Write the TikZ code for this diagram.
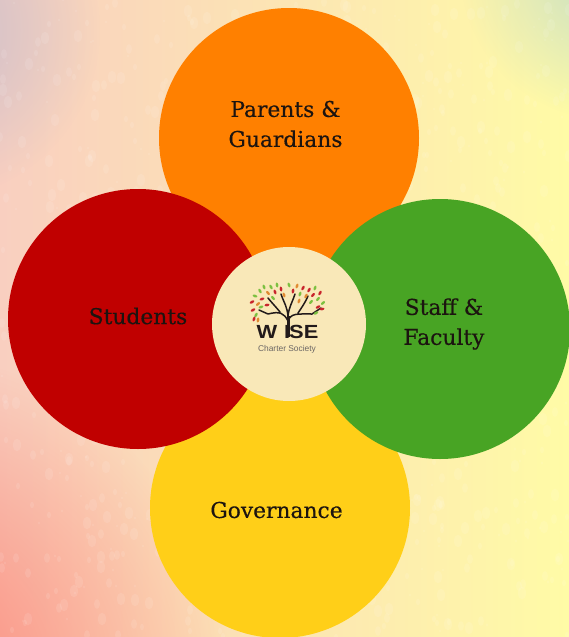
\documentclass[tikz,border=0pt]{standalone}
\usepackage{fontspec}
\usetikzlibrary{fadings,calc,shapes.geometric}
\setmainfont{DejaVu Serif}
\newfontfamily\labelfont[FakeBold=0.35]{DejaVu Serif}
\newfontfamily\logofont{Liberation Sans}
\definecolor{orangec}{HTML}{FF8000}
\definecolor{redc}{HTML}{C00000}
\definecolor{greenc}{HTML}{48A424}
\definecolor{yellowc}{HTML}{FFCF18}
\definecolor{creamc}{HTML}{F9E8B8}
\definecolor{inkc}{HTML}{1C1410}
\definecolor{treec}{HTML}{221A1A}
\definecolor{leafr}{HTML}{C8242C}
\definecolor{leafg}{HTML}{7CC040}
\definecolor{leafo}{HTML}{E08A30}
\definecolor{bgleft}{HTML}{F9CFC0}
\definecolor{bgmid}{HTML}{FCE7C6}
\definecolor{bgright}{HTML}{FFFBA6}
\definecolor{bgsalmon}{HTML}{FB8474}
\definecolor{bgslate}{HTML}{C8BECC}
\definecolor{bgsage}{HTML}{C4DCC8}
\tikzfading[name=spotfade, inner color=transparent!0, outer color=transparent!100]
\tikzset{
  petal/.style={circle, minimum size=260pt, inner sep=0pt},
  petaltext/.style={text=inkc, align=center, font=\labelfont\fontsize{21.8}{30}\selectfont},
  leaf/.style={rotate=#1, minimum width=5pt, minimum height=2.6pt, ellipse, inner sep=0pt},
}
\begin{document}
\begin{tikzpicture}[x=1pt, y=-1pt]
\useasboundingbox (0,0) rectangle (569,637);
\begin{scope}
\clip (0,0) rectangle (569,637);
\shade[left color=bgleft, middle color=bgmid, right color=bgright] (0,0) rectangle (569,637);
% corners of the wash
\fill[bgsalmon, path fading=spotfade] (-110,690) circle (340);
\fill[bgslate, path fading=spotfade] (-70,30) circle (170);
\fill[bgsage, path fading=spotfade] (610,-30) circle (150);
% mottled paper
\pgfmathsetseed{42}
\foreach \i in {1,...,900} {
  \pgfmathsetmacro{\px}{random(0,569)}
  \pgfmathsetmacro{\py}{random(0,637)}
  \pgfmathsetmacro{\pw}{random(1,4)}
  \fill[white, opacity=0.10] (\px,\py) ellipse ({\pw} and {\pw*1.6});
}
\end{scope}

% petals
\node[petal, fill=orangec] (parents) at (289,138) {};
\node[petal, fill=yellowc] (governance) at (280,508) {};
\node[petal, fill=redc] (students) at (138,319) {};
\node[petal, fill=greenc] (staff) at (440,329) {};
\node[circle, minimum size=154pt, inner sep=0pt, fill=creamc] (wise) at (289,324) {};

\node[petaltext] (parentslabel) at (285.5,124) {Parents \&\\Guardians};
\node[petaltext] (studentslabel) at (138,316) {Students};
\node[petaltext] (stafflabel) at (444,324) {Staff \&\\Faculty};
\node[petaltext] (governancelabel) at (276.5,510) {Governance};

% logo tree
\draw[treec, line width=3pt] (288,337) -- (288,316);
\draw[treec, line width=1.5pt, line cap=round]
  (288,321) .. controls (284,313) and (280,311) .. (268,314)
  (288,321) .. controls (291,313) and (297,314) .. (312,314)
  (288,316) .. controls (287,306) and (284,303) .. (281,294)
  (288,316) .. controls (289,307) and (292,303) .. (295,294)
  (280,312) .. controls (276,307) and (272,303) .. (268,298)
  (298,313) .. controls (302,307) and (305,303) .. (308,296)
  (268,314) -- (259,310)
  (312,314) -- (321,308);
\foreach \lx/\ly/\la/\lc in {
  252/302/30/leafr, 255/296/-20/leafg, 258/304/40/leafo, 260/291/-60/leafg,
  262/299/20/leafr, 264/287/-70/leafg, 268/293/-50/leafo, 271/287/-60/leafg,
  275/292/-70/leafr, 277/285/-80/leafg, 281/289/-80/leafr, 284/295/-70/leafo,
  289/285/-70/leafg, 293/291/-100/leafr, 297/286/-110/leafo, 300/294/-110/leafg,
  303/288/-120/leafr, 306/296/-120/leafo, 309/290/-120/leafr, 313/295/-130/leafr,
  315/288/-110/leafg, 318/299/-130/leafg, 320/293/-120/leafr, 323/303/-140/leafg,
  253/310/30/leafr, 256/315/60/leafg, 261/307/20/leafg, 318/307/-150/leafr,
  322/309/-170/leafr, 316/313/-150/leafg, 258/320/80/leafo, 254/319/70/leafr,
  273/298/-50/leafg, 299/301/-110/leafo, 311/302/-130/leafg, 267/305/10/leafr} {
  \node[leaf=\la, fill=\lc] (l\lx\ly) at (\lx,\ly) {};
}
\node[inner sep=0pt, xscale=1.15, text=treec, font=\logofont\bfseries\fontsize{19}{19}\selectfont] (wisetext) at (287.5,332) {W\kern6pt I\kern-1pt SE};
\node[inner sep=0pt, text=inkc!65, font=\logofont\fontsize{8.4}{8.4}\selectfont] (chartertext) at (287,349) {Charter Society};
\end{tikzpicture}
\end{document}
